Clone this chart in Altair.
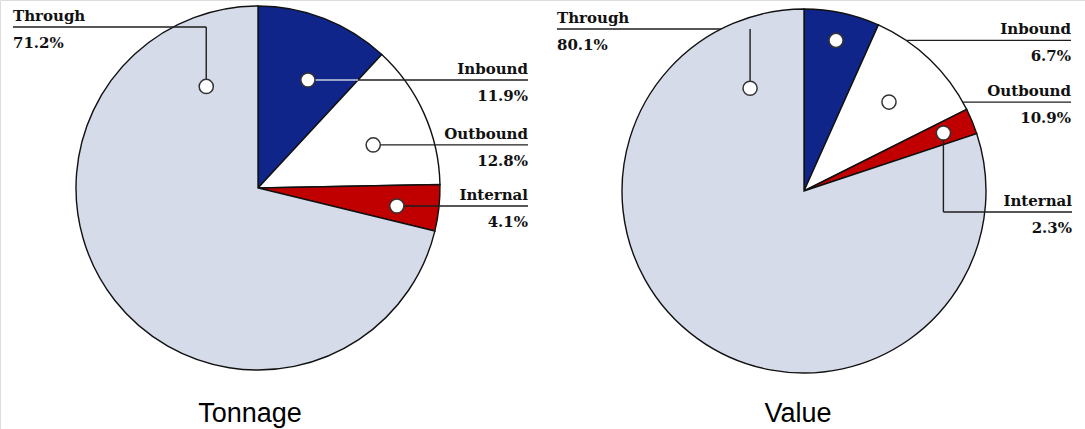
import math
import altair as alt
import pandas as pd

# --- data -------------------------------------------------------------
categories = ["Inbound", "Outbound", "Internal", "Through"]
tonnage_share = [11.9, 12.8, 4.1, 71.2]
value_share = [6.7, 10.9, 2.3, 80.1]
slice_colors = ["#10258A", "#FFFFFF", "#C00000", "#D5DBE8"]
panel_titles = ["Tonnage", "Value"]

# --- layout -----------------------------------------------------------
W, H = 1085, 429
pie_centers = [(258, 188), (804, 191)]
pie_radius = 182
title_x = [250, 798]
title_y = 422

# marker position inside each slice, as (angle in degrees from 12 o'clock, radius px)
marker_polar = [
    [(24.8, 119), (69.5, 123), (97.4, 140), (333.0, 114)],
    [(12.0, 154), (43.7, 123), (67.4, 151), (332.3, 116)],
]
# leader routing: (kind, label x, label-line y or None, clip-to-edge)
leader_specs = [
    [("h", 528, None, False), ("h", 528, None, False), ("h", 528, None, False), ("ul", 13, 27, False)],
    [("h", 1071, None, True), ("h", 1071, None, True), ("dr", 1072, 212, False), ("ul", 557, 29, True)],
]

LINE_DARK = "#1E1E1E"
LINE_LIGHT = "#C9CEE2"


def polar(cx, cy, ang, rad):
    a = math.radians(ang)
    return cx + rad * math.sin(a), cy - rad * math.cos(a)


def edge_x(cx, cy, y, side):
    return cx + side * math.sqrt(max(pie_radius ** 2 - (y - cy) ** 2, 0))


pie_rows, marker_rows, seg_rows, text_rows = [], [], [], []
for p, shares in enumerate([tonnage_share, value_share]):
    cx, cy = pie_centers[p]
    for i, (cat, share) in enumerate(zip(categories, shares)):
        pie_rows.append({"panel": panel_titles[p], "category": cat, "share": share, "idx": i})
        mx, my = polar(cx, cy, *marker_polar[p][i])
        marker_rows.append({"x": mx, "y": my})
        kind, lx, ly, clip = leader_specs[p][i]
        if kind == "h":
            ly = my
            sx = edge_x(cx, cy, my, 1) if clip else mx
            # part of the leader lying on the navy slice is drawn light
            if i == 0 and not clip:
                bx = cx + (cy - my) * math.tan(math.radians(share * 3.6))
                seg_rows.append({"x": mx, "y": my, "x2": bx, "y2": my, "c": LINE_LIGHT})
                sx = bx
            seg_rows.append({"x": sx, "y": my, "x2": lx, "y2": my, "c": LINE_DARK})
            align = "right"
        elif kind == "ul":
            seg_rows.append({"x": mx, "y": my, "x2": mx, "y2": ly, "c": LINE_DARK})
            sx = edge_x(cx, cy, ly, -1) if clip else mx
            seg_rows.append({"x": sx, "y": ly, "x2": lx, "y2": ly, "c": LINE_DARK})
            align = "left"
        else:  # "dr": down then right
            seg_rows.append({"x": mx, "y": my, "x2": mx, "y2": ly, "c": LINE_DARK})
            seg_rows.append({"x": mx, "y": ly, "x2": lx, "y2": ly, "c": LINE_DARK})
            align = "right"
        text_rows.append({"x": lx, "y": ly - 6, "t": cat, "align": align})
        text_rows.append({"x": lx, "y": ly + 21, "t": f"{share:.1f}%", "align": align})

pies = pd.DataFrame(pie_rows)
markers = pd.DataFrame(marker_rows)
segments = pd.DataFrame(seg_rows)
labels = pd.DataFrame(text_rows)
titles = pd.DataFrame({"x": title_x, "y": [title_y] * 2, "t": panel_titles})

xs = alt.Scale(domain=[0, W], nice=False, zero=False)
ys = alt.Scale(domain=[0, H], nice=False, zero=False, reverse=True)
X = lambda f="x": alt.X(f"{f}:Q", scale=xs, axis=None)
Y = lambda f="y": alt.Y(f"{f}:Q", scale=ys, axis=None)

layers = []
for p, title in enumerate(panel_titles):
    cx, cy = pie_centers[p]
    layers.append(
        alt.Chart(pies)
        .transform_filter(alt.datum.panel == title)
        .mark_arc(radius=pie_radius, stroke="#111111", strokeWidth=1.4)
        .encode(
            theta=alt.Theta("share:Q", stack=True, scale=alt.Scale(domain=[0, 100])),
            color=alt.Color("category:N", scale=alt.Scale(domain=categories, range=slice_colors), legend=None),
            order=alt.Order("idx:Q"),
            x=alt.value(cx),
            y=alt.value(cy),
        )
    )

rules = alt.Chart(segments).mark_rule(strokeWidth=1.4).encode(
    x=X(), y=Y(), x2="x2:Q", y2="y2:Q", color=alt.Color("c:N", scale=None)
)
dots = alt.Chart(markers).mark_circle(
    size=200, fill="white", stroke="#333333", strokeWidth=1.5, opacity=1
).encode(x=X(), y=Y())

text_layers = []
for al in ["left", "right"]:
    text_layers.append(
        alt.Chart(labels)
        .transform_filter(alt.datum.align == al)
        .mark_text(align=al, baseline="alphabetic", font="DejaVu Serif", fontWeight="bold",
                   fontSize=15, color="#111111")
        .encode(x=X(), y=Y(), text="t:N")
    )

title_text = alt.Chart(titles).mark_text(
    align="center", baseline="alphabetic", font="Liberation Sans, Arial, sans-serif",
    fontSize=27, color="#000000"
).encode(x=X(), y=Y(), text="t:N")

chart = (
    alt.layer(*layers, rules, dots, *text_layers, title_text)
    .resolve_scale(theta="independent", color="independent")
    .properties(width=W, height=H, autosize=alt.AutoSizeParams(type="none"), padding=0)
    .configure_view(stroke=None)
    .configure(background="white")
)

chart.save("out.html", embed_options={"renderer": "svg", "actions": False})
